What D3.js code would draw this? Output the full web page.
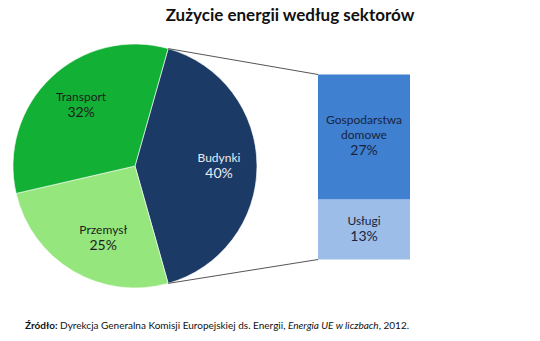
<!DOCTYPE html>
<html>
<head>
<meta charset="utf-8">
<script src="https://cdn.jsdelivr.net/npm/d3@7"></script>
<style>
  html, body { margin: 0; padding: 0; background: #fff; }
  svg { display: block; font-family: Lato, "Open Sans", sans-serif; }
</style>
</head>
<body>
<svg id="chart" width="540" height="341"></svg>
<script>
// Energy use by sector (%), pie in clockwise order starting with Budynki
const sectors = ["Budynki", "Przemysł", "Transport"];
const sectorValues = [40, 25, 32];
const sectorColors = ["#1b3a66", "#95e77d", "#12b035"];
const sectorTextColors = ["#e6ebf3", "#1d1d1d", "#1d1d1d"];

// Breakdown of Budynki, stacked bottom to top
const subSectors = ["Usługi", "Gospodarstwa domowe"];
const subValues = [13, 27];
const subColors = ["#9cbde7", "#3f80d0"];

const title = "Zużycie energii według sektorów";

(function draw() {
  const svg = d3.select("#chart");
  const cx = 135, cy = 166, r = 122;

  svg.append("text")
    .attr("x", 290).attr("y", 21)
    .attr("text-anchor", "middle")
    .attr("font-size", 17).attr("font-weight", "bold")
    .attr("fill", "#111")
    .text(title);

  const data = sectors.map((s, i) => ({ name: s, value: sectorValues[i], i }));
  const total = d3.sum(sectorValues);
  const budSpan = sectorValues[0] / total * 2 * Math.PI;
  const start = Math.PI / 2 - budSpan / 2;

  const pie = d3.pie().sort(null).value(d => d.value)
    .startAngle(start).endAngle(start + 2 * Math.PI);
  const arcs = pie(data);
  const arc = d3.arc().innerRadius(0).outerRadius(r);
  const labelArc = d3.arc().innerRadius(84).outerRadius(84);

  const g = svg.append("g").attr("transform", `translate(${cx},${cy})`);
  g.selectAll("path").data(arcs).enter().append("path")
    .attr("d", arc)
    .attr("fill", d => sectorColors[d.data.i])
    .attr("stroke", "#fff").attr("stroke-width", 0.6);

  // Labels sit at the slice centroid; left-side ones pulled slightly toward the centre
  const lbl = g.selectAll("g.lbl").data(arcs).enter().append("g")
    .attr("transform", d => {
      const [x, yy] = labelArc.centroid(d);
      const lx = x < 0 ? x * 0.93 + (yy > 0 ? 8 : 0) : x;
      return `translate(${lx},${yy})`;
    })
    .attr("text-anchor", "middle")
    .attr("fill", d => sectorTextColors[d.data.i]);
  lbl.append("text").attr("y", -4).attr("font-size", 12).text(d => d.data.name);
  lbl.append("text").attr("y", 12).attr("font-size", 14).text(d => d.data.value + "%");

  // Stacked bar for the Budynki breakdown
  const barX = 318, barW = 92;
  const y = d3.scaleLinear().domain([0, d3.sum(subValues)]).range([259.5, 74.5]);
  let acc = 0;
  const stack = subValues.map((v, i) => { const s = { i, y0: acc, y1: acc + v, v }; acc += v; return s; });

  svg.selectAll("rect.sub").data(stack).enter().append("rect")
    .attr("x", barX).attr("width", barW)
    .attr("y", d => y(d.y1)).attr("height", d => y(d.y0) - y(d.y1))
    .attr("fill", d => subColors[d.i]);

  // Connector lines from the Budynki slice edges to the bar
  const b = arcs[0];
  const p0 = [cx + r * Math.sin(b.startAngle), cy - r * Math.cos(b.startAngle)];
  const p1 = [cx + r * Math.sin(b.endAngle), cy - r * Math.cos(b.endAngle)];
  svg.append("line").attr("x1", p0[0]).attr("y1", p0[1]).attr("x2", barX).attr("y2", y(acc))
    .attr("stroke", "#555").attr("stroke-width", 1);
  svg.append("line").attr("x1", p1[0]).attr("y1", p1[1]).attr("x2", barX).attr("y2", y(0))
    .attr("stroke", "#555").attr("stroke-width", 1);

  // Bar labels
  const bx = barX + barW / 2;
  const upper = stack[1], lower = stack[0];
  const um = y((upper.y0 + upper.y1) / 2), lm = y((lower.y0 + lower.y1) / 2);
  const tt = svg.append("g").attr("text-anchor", "middle").attr("fill", "#1a2440");
  tt.append("text").attr("x", bx).attr("y", um - 13).attr("font-size", 12).text("Gospodarstwa");
  tt.append("text").attr("x", bx).attr("y", um + 2).attr("font-size", 12).text("domowe");
  tt.append("text").attr("x", bx).attr("y", um + 18).attr("font-size", 14).text(upper.v + "%");
  tt.append("text").attr("x", bx).attr("y", lm - 4).attr("font-size", 12).text(subSectors[0]);
  tt.append("text").attr("x", bx).attr("y", lm + 12).attr("font-size", 14).text(lower.v + "%");

  // Source note
  const src = svg.append("text").attr("x", 25).attr("y", 329).attr("font-size", 10).attr("fill", "#111");
  src.append("tspan").attr("font-weight", "bold").text("Źródło:");
  src.append("tspan").text(" Dyrekcja Generalna Komisji Europejskiej ds. Energii, ");
  src.append("tspan").attr("font-style", "italic").text("Energia UE w liczbach");
  src.append("tspan").text(", 2012.");
})();
</script>
</body>
</html>
